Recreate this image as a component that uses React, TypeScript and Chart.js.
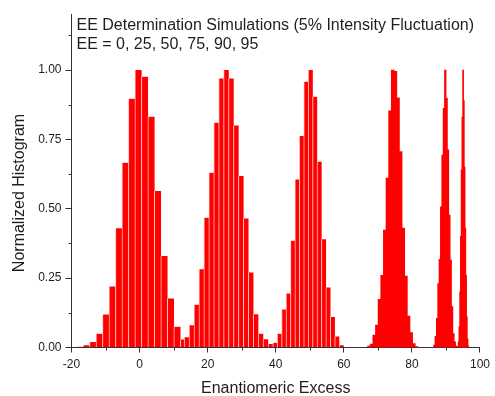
import { useEffect, useRef } from 'react';
import { Chart, registerables } from 'chart.js';

Chart.register(...registerables);

// ---- data ----
const SERIES_NAMES = ['EE = 0', 'EE = 25', 'EE = 50', 'EE = 75', 'EE = 90', 'EE = 95'];
// histogram bin centres: first bin centre and bin width per series
const BIN_START = [-17.5, 13.87, 39.83, 67.4, 86.6, 93.5];
const BIN_WIDTH = [1.904, 1.45, 1.3, 0.774, 0.4, 0.22];

const EE0_HIST = [0.003, 0.008, 0.02, 0.05, 0.119, 0.22, 0.43, 0.666, 0.897, 1.0, 0.976, 0.832, 0.564, 0.33, 0.177, 0.0745, 0.029];
const EE25_HIST = [0.037, 0.08, 0.154, 0.282, 0.468, 0.63, 0.81, 0.97, 1.0, 0.97, 0.8, 0.618, 0.465, 0.27, 0.12, 0.05, 0.03, 0.013];
const EE50_HIST = [0.017, 0.05, 0.137, 0.195, 0.385, 0.606, 0.762, 0.958, 1.0, 0.904, 0.67, 0.39, 0.216, 0.11, 0.04, 0.008, 0.002];
const EE75_HIST = [0.005, 0.012, 0.044, 0.08, 0.173, 0.26, 0.423, 0.61, 0.853, 1.0, 0.995, 0.9, 0.706, 0.43, 0.257, 0.113, 0.053, 0.014, 0.003];
const EE90_HIST = [0.008, 0.04, 0.105, 0.23, 0.317, 0.507, 0.693, 0.862, 1.0, 0.898, 0.712, 0.477, 0.315, 0.147, 0.05, 0.02, 0.005];
const EE95_HIST = [0.003, 0.02, 0.075, 0.2, 0.4, 0.64, 0.83, 1.0, 0.89, 0.65, 0.43, 0.26, 0.11, 0.03, 0.005];

const X_MIN = -20;
const X_MAX = 100;
const Y_MIN = 0;
const Y_MAX = 1.2;
const X_TICKS = [-20, 0, 20, 40, 60, 80, 100];
const X_TICK_LABELS = ['-20', '0', '20', '40', '60', '80', '100'];
const X_MINOR_TICKS = [-10, 10, 30, 50, 70, 90];
const Y_TICKS = [0, 0.25, 0.5, 0.75, 1.0];
const Y_TICK_LABELS = ['0.00', '0.25', '0.50', '0.75', '1.00'];
const Y_MINOR_TICKS = [0.125, 0.375, 0.625, 0.875, 1.125];

const TITLE_LINES = ['EE Determination Simulations (5% Intensity Fluctuation)', 'EE = 0, 25, 50, 75, 90, 95'];
const X_TITLE = 'Enantiomeric Excess';
const Y_TITLE = 'Normalized Histogram';

// ---- layout & styles ----
const CANVAS_W = 495;
const CANVAS_H = 396;
const AREA_LEFT = 71.5;
const AREA_RIGHT_PAD = 10;
const AREA_TOP = 14.6;
const X_AXIS_H = 48.5;
const PX_PER_UNIT = (CANVAS_W - AREA_RIGHT_PAD - AREA_LEFT) / (X_MAX - X_MIN);

const FONT = '"Liberation Sans", Arial, sans-serif';
const TEXT_COLOR = '#1e1e1e';
const AXIS_COLOR = '#333333';
const BAR_COLOR = '#ff0000';
const SEPARATOR_COLOR = '#ffc4c4';
const SHOW_SEPARATORS = [true, true, true, false, false, false];

const HISTS = [EE0_HIST, EE25_HIST, EE50_HIST, EE75_HIST, EE90_HIST, EE95_HIST];

const overlayPlugin = {
  id: 'overlayText',
  afterDraw(chart: any) {
    const { ctx, chartArea, scales } = chart;
    const xs = scales.x;
    const ys = scales.y;
    ctx.save();
    // minor ticks
    ctx.strokeStyle = AXIS_COLOR;
    ctx.lineWidth = 1;
    ctx.beginPath();
    X_MINOR_TICKS.forEach((v) => {
      const px = Math.round(xs.getPixelForValue(v)) + 0.5;
      ctx.moveTo(px, chartArea.bottom);
      ctx.lineTo(px, chartArea.bottom + 3);
    });
    Y_MINOR_TICKS.forEach((v) => {
      const py = Math.round(ys.getPixelForValue(v)) + 0.5;
      ctx.moveTo(chartArea.left - 3, py);
      ctx.lineTo(chartArea.left, py);
    });
    ctx.stroke();

    // header text inside plot
    ctx.fillStyle = TEXT_COLOR;
    ctx.font = `16px ${FONT}`;
    ctx.textAlign = 'left';
    ctx.textBaseline = 'alphabetic';
    ctx.fillText(TITLE_LINES[0], chartArea.left + 5, 29.5);
    ctx.fillText(TITLE_LINES[1], chartArea.left + 5, 49);

    // y axis title
    ctx.translate(19.5, 193);
    ctx.rotate(-Math.PI / 2);
    ctx.textAlign = 'center';
    ctx.textBaseline = 'middle';
    ctx.fillText(Y_TITLE, 0, 0);
    ctx.restore();
  },
};

export default function App() {
  const canvasRef = useRef<HTMLCanvasElement | null>(null);

  useEffect(() => {
    if (!canvasRef.current) return;
    const axisIds = HISTS.map((_, i) => (i === 0 ? 'x' : `x${i}`));

    const datasets = HISTS.map((hist, i) => ({
      label: SERIES_NAMES[i],
      data: hist.map((h, k) => ({ x: BIN_START[i] + k * BIN_WIDTH[i], y: h })),
      xAxisID: axisIds[i],
      yAxisID: 'y',
      backgroundColor: BAR_COLOR,
      borderColor: SEPARATOR_COLOR,
      borderWidth: SHOW_SEPARATORS[i] ? { left: 1, top: 0, right: 0, bottom: 0 } : 0,
      borderSkipped: false,
      inflateAmount: SHOW_SEPARATORS[i] ? 0.5 : 0.45,
      barThickness: BIN_WIDTH[i] * PX_PER_UNIT,
      grouped: false,
      order: HISTS.length - i,
    }));

    const scales: any = {
      x: {
        type: 'linear',
        axis: 'x',
        position: 'bottom',
        min: X_MIN,
        max: X_MAX,
        offset: false,
        afterBuildTicks: (scale: any) => {
          scale.ticks = X_TICKS.map((v) => ({ value: v }));
        },
        afterFit: (scale: any) => {
          scale.height = X_AXIS_H;
        },
        ticks: {
          callback: (_v: any, idx: number) => X_TICK_LABELS[idx],
          color: TEXT_COLOR,
          font: { family: FONT, size: 12 },
          padding: 5,
          maxRotation: 0,
          autoSkip: false,
        },
        grid: {
          display: true,
          drawOnChartArea: false,
          drawTicks: true,
          tickLength: 5,
          tickColor: AXIS_COLOR,
          tickWidth: 1,
          offset: false,
        },
        border: { display: true, color: AXIS_COLOR, width: 1 },
        title: {
          display: true,
          text: X_TITLE,
          color: TEXT_COLOR,
          font: { family: FONT, size: 16, lineHeight: 1 },
          padding: { top: 0, bottom: -1 },
        },
      },
      y: {
        type: 'linear',
        position: 'left',
        min: Y_MIN,
        max: Y_MAX,
        afterBuildTicks: (scale: any) => {
          scale.ticks = Y_TICKS.map((v) => ({ value: v }));
        },
        afterFit: (scale: any) => {
          scale.width = AREA_LEFT;
        },
        ticks: {
          callback: (_v: any, idx: number) => Y_TICK_LABELS[idx],
          color: TEXT_COLOR,
          font: { family: FONT, size: 12 },
          padding: 4,
        },
        grid: {
          display: true,
          drawOnChartArea: false,
          drawTicks: true,
          tickLength: 6,
          tickColor: AXIS_COLOR,
          tickWidth: 1,
        },
        border: { display: true, color: AXIS_COLOR, width: 1 },
      },
    };
    axisIds.slice(1).forEach((id) => {
      scales[id] = {
        type: 'linear',
        axis: 'x',
        position: 'bottom',
        display: false,
        min: X_MIN,
        max: X_MAX,
        offset: false,
        ticks: { stepSize: 20 },
        grid: { offset: false },
      };
    });

    const chart = new Chart(canvasRef.current, {
      type: 'bar',
      data: { datasets } as any,
      options: {
        animation: false,
        responsive: true,
        maintainAspectRatio: false,
        layout: { padding: { left: 0, right: AREA_RIGHT_PAD, top: AREA_TOP, bottom: 0 } },
        plugins: {
          legend: { display: false },
          tooltip: { enabled: false },
          title: { display: false },
        },
        scales,
      } as any,
      plugins: [overlayPlugin],
    });
    return () => chart.destroy();
  }, []);

  return (
    <div style={{ position: 'fixed', left: 0, top: 0, width: CANVAS_W, height: CANVAS_H, background: '#ffffff' }}>
      <canvas ref={canvasRef} />
    </div>
  );
}
